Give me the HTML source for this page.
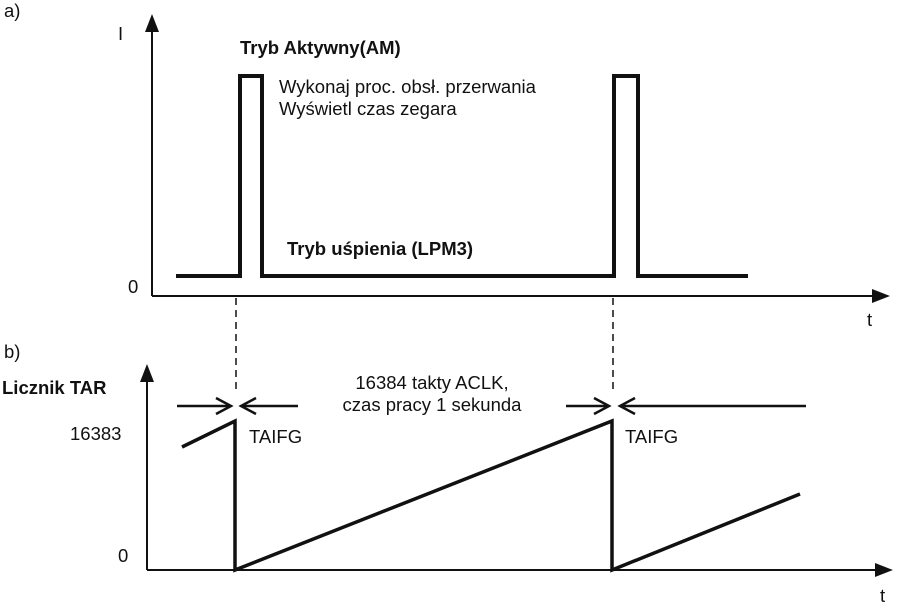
<!DOCTYPE html>
<html><head><style>body{margin:0;background:#fff}svg{display:block}text{font-family:"Liberation Sans",sans-serif;fill:#111}</style></head>
<body>
<svg width="900" height="604" viewBox="0 0 900 604" xmlns="http://www.w3.org/2000/svg">
<g stroke="#111" fill="none" stroke-linecap="butt">
<line x1="152" y1="28" x2="152" y2="296" stroke-width="2"/>
<line x1="152" y1="296" x2="876" y2="296" stroke-width="2"/>
<polyline points="176,276 240,276 240,76 262,76 262,276 614,276 614,76 638,76 638,276 748,276" stroke-width="4" stroke-linejoin="miter"/>
<line x1="147" y1="378" x2="147" y2="570" stroke-width="2"/>
<line x1="147" y1="570" x2="880" y2="570" stroke-width="2"/>
<polyline points="182,447 235,421 235,570 612,421 612,570 800,494" stroke-width="3.5" stroke-linejoin="miter"/>
<line x1="236" y1="298" x2="236" y2="393" stroke-width="1.5" stroke-dasharray="7,5"/>
<line x1="613" y1="298" x2="613" y2="393" stroke-width="1.5" stroke-dasharray="7,5"/>
<g stroke-width="2.5">
<line x1="177" y1="406" x2="231" y2="406"/><polyline points="216,398 231,406 216,414"/>
<line x1="241" y1="406" x2="298" y2="406"/><polyline points="256,398 241,406 256,414"/>
<line x1="566" y1="406" x2="609" y2="406"/><polyline points="594,398 609,406 594,414"/>
<line x1="620" y1="406" x2="806" y2="406"/><polyline points="635,398 620,406 635,414"/>
</g>
</g>
<g fill="#111">
<polygon points="152,14 145,32 159,32"/>
<polygon points="890,296 872,289 872,303"/>
<polygon points="147,364 140,382 154,382"/>
<polygon points="893,570 875,563 875,577"/>
</g>
<g font-size="18.5">
<text x="4" y="17">a)</text>
<text x="118" y="40">I</text>
<text x="128" y="293">0</text>
<text x="867" y="326">t</text>
<text x="4" y="358">b)</text>
<text x="2" y="394" font-weight="bold">Licznik TAR</text>
<text x="70" y="440">16383</text>
<text x="118" y="562">0</text>
<text x="880" y="602">t</text>
<text x="240" y="54" font-weight="bold">Tryb Aktywny(AM)</text>
<text x="279" y="93">Wykonaj proc. obsł. przerwania</text>
<text x="279" y="115">Wyświetl czas zegara</text>
<text x="287" y="255" font-weight="bold">Tryb uśpienia (LPM3)</text>
<text x="432" y="389" text-anchor="middle">16384 takty ACLK,</text>
<text x="432" y="411" text-anchor="middle">czas pracy 1 sekunda</text>
<text x="249" y="443">TAIFG</text>
<text x="625" y="443">TAIFG</text>
</g>
</svg>
</body></html>
